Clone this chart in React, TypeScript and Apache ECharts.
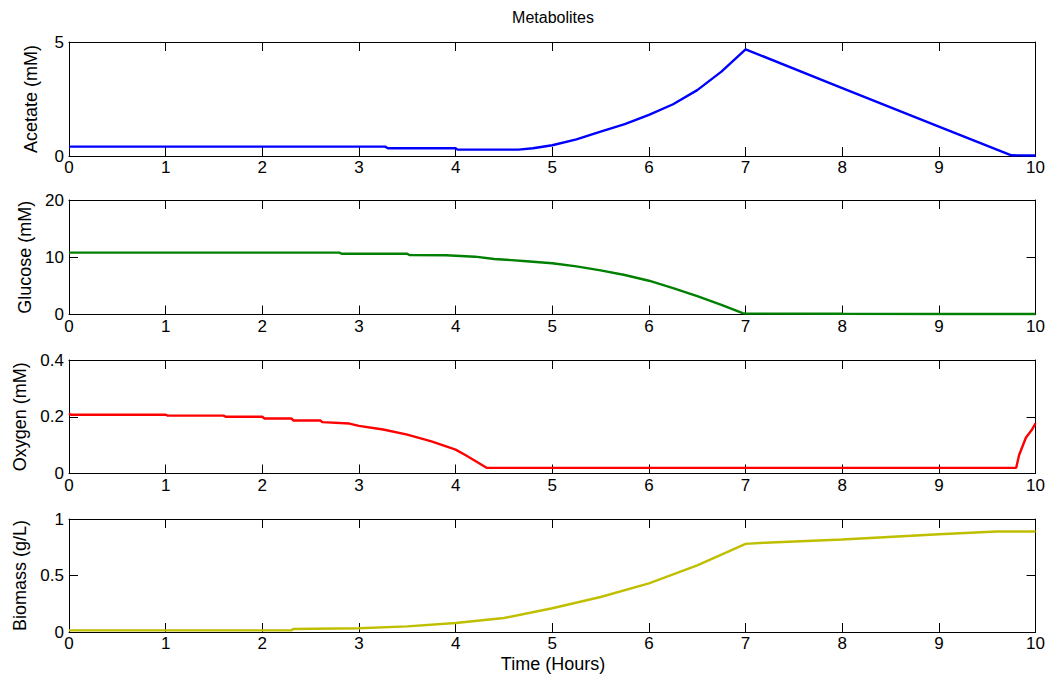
import React, { useEffect, useRef } from "react";
import * as echarts from "echarts";

const timeTicks = [0, 1, 2, 3, 4, 5, 6, 7, 8, 9, 10];

const acetateT = [0, 3.27, 3.3, 4.0, 4.02, 4.65, 4.8, 5.0, 5.25, 5.5, 5.75, 6.0, 6.25, 6.5, 6.75, 7.0, 8.0, 9.0, 9.75, 10];
const acetateV = [0.41, 0.41, 0.34, 0.34, 0.28, 0.28, 0.34, 0.47, 0.73, 1.07, 1.4, 1.8, 2.27, 2.89, 3.7, 4.68, 2.98, 1.29, 0.03, 0.02];

const glucoseT = [0, 2.8, 2.82, 3.5, 3.52, 3.9, 4.2, 4.4, 4.7, 5.0, 5.25, 5.5, 5.75, 6.0, 6.25, 6.5, 6.75, 6.97, 7.0, 8.0, 9.0, 10];
const glucoseV = [10.8, 10.8, 10.6, 10.6, 10.4, 10.35, 10.1, 9.7, 9.35, 8.95, 8.4, 7.7, 6.9, 5.9, 4.6, 3.2, 1.7, 0.25, 0.15, 0.12, 0.1, 0.1];

const oxygenT = [0, 0.02, 1.0, 1.02, 1.6, 1.62, 2.0, 2.02, 2.3, 2.32, 2.6, 2.62, 2.9, 3.0, 3.25, 3.5, 3.75, 4.0, 4.1, 4.2, 4.32, 9.8, 9.83, 9.9, 9.96, 10];
const oxygenV = [0.212, 0.207, 0.207, 0.204, 0.204, 0.2, 0.2, 0.194, 0.194, 0.187, 0.187, 0.181, 0.176, 0.168, 0.155, 0.137, 0.113, 0.084, 0.065, 0.045, 0.02, 0.02, 0.065, 0.126, 0.153, 0.177];

const biomassT = [0, 2.3, 2.32, 3.0, 3.5, 4.0, 4.5, 5.0, 5.5, 6.0, 6.5, 7.0, 7.2, 8.0, 9.0, 9.6, 10];
const biomassV = [0.014, 0.014, 0.026, 0.033, 0.05, 0.08, 0.124, 0.21, 0.31, 0.43, 0.59, 0.78, 0.79, 0.818, 0.865, 0.89, 0.89];

const panelNames = ["Acetate (mM)", "Glucose (mM)", "Oxygen (mM)", "Biomass (g/L)"];
const panelMax = [5, 20, 0.4, 1];
const panelInterval = [5, 10, 0.2, 0.5];
const panelColors = ["#0000ff", "#008000", "#ff0000", "#bfbf00"];

const FONT = "'Liberation Sans', Arial, Helvetica, sans-serif";

export default function App() {
  const ref = useRef<HTMLDivElement>(null);
  useEffect(() => {
    document.body.style.margin = "0";
    if (!ref.current) return;
    const chart = echarts.init(ref.current, undefined, { renderer: "svg" });
    const tops = [42, 200, 360, 519];
    const heights = [114, 114.5, 113.5, 113];
    const seriesData = [
      acetateT.map((t, i) => [t, acetateV[i]]),
      glucoseT.map((t, i) => [t, glucoseV[i]]),
      oxygenT.map((t, i) => [t, oxygenV[i]]),
      biomassT.map((t, i) => [t, biomassV[i]]),
    ];
    const grid: any[] = [];
    const xAxis: any[] = [];
    const yAxis: any[] = [];
    const series: any[] = [];
    const axisLine = { show: true, onZero: false, lineStyle: { color: "#000", width: 1 } };
    const tick = { show: true, inside: true, length: 9, lineStyle: { color: "#000", width: 1 } };
    for (let i = 0; i < 4; i++) {
      grid.push({ left: 69, width: 967, top: tops[i], height: heights[i], containLabel: false });
      xAxis.push({
        type: "value", gridIndex: i, min: 0, max: 10, interval: 1, position: "bottom",
        axisLine, axisTick: tick, splitLine: { show: false },
        axisLabel: { color: "#000", fontSize: 17, fontFamily: FONT, margin: 3,
          formatter: (v: number) => (timeTicks.includes(v) ? String(v) : "") },
      });
      xAxis.push({
        type: "value", gridIndex: i, min: 0, max: 10, interval: 1, position: "top",
        axisLine, axisTick: tick, splitLine: { show: false }, axisLabel: { show: false },
      });
      yAxis.push({
        type: "value", gridIndex: i, min: 0, max: panelMax[i], interval: panelInterval[i], position: "left",
        axisLine, axisTick: tick, splitLine: { show: false },
        axisLabel: { color: "#000", fontSize: 17, fontFamily: FONT, margin: 5 },
        name: panelNames[i], nameLocation: "middle", nameGap: 29,
        nameTextStyle: { color: "#000", fontSize: 18, fontFamily: FONT },
      });
      yAxis.push({
        type: "value", gridIndex: i, min: 0, max: panelMax[i], interval: panelInterval[i], position: "right",
        axisLine, axisTick: tick, splitLine: { show: false }, axisLabel: { show: false },
      });
      series.push({
        type: "line", xAxisIndex: 2 * i, yAxisIndex: 2 * i, data: seriesData[i],
        showSymbol: false, symbol: "none", lineStyle: { color: panelColors[i], width: 2.4 },
        itemStyle: { color: panelColors[i] }, silent: true,
      });
    }
    chart.setOption({
      animation: false,
      backgroundColor: "#fff",
      grid, xAxis, yAxis, series,
      graphic: [
        { type: "text", x: 553, y: 17, style: { text: "Metabolites", fill: "#000", font: `16px ${FONT}`, textAlign: "center", textVerticalAlign: "middle" } },
        { type: "text", x: 553, y: 664, style: { text: "Time (Hours)", fill: "#000", font: `18px ${FONT}`, textAlign: "center", textVerticalAlign: "middle" } },
      ],
    });
    return () => chart.dispose();
  }, []);
  return <div ref={ref} style={{ width: 1048, height: 679 }} />;
}
